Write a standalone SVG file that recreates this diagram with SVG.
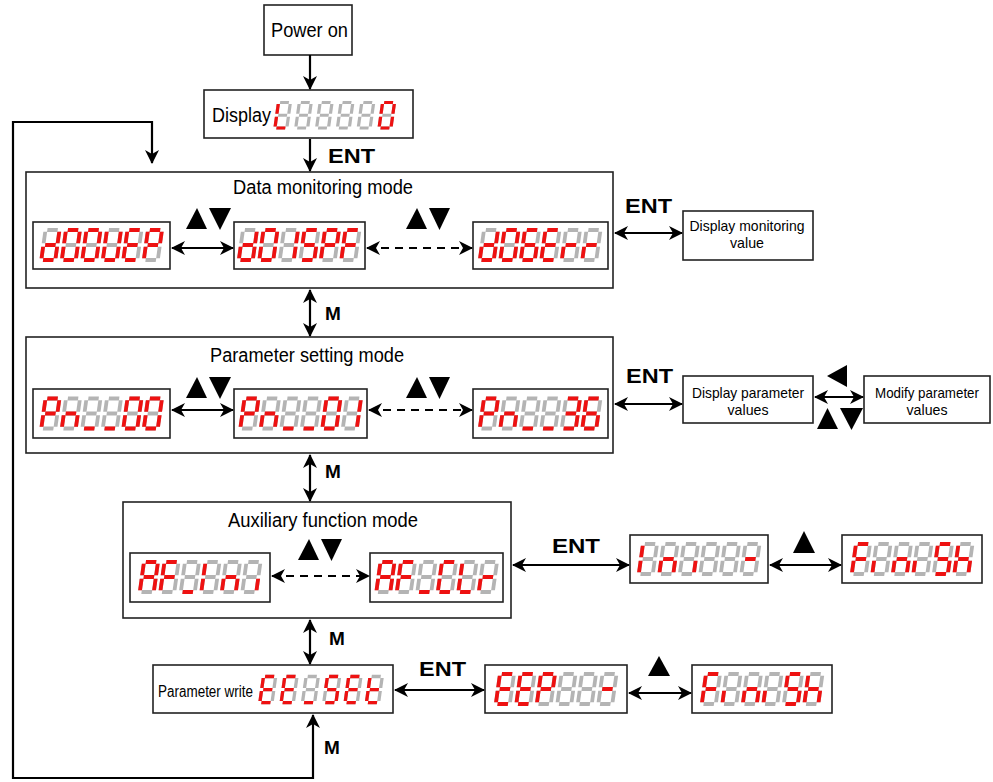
<svg xmlns="http://www.w3.org/2000/svg" xmlns:xlink="http://www.w3.org/1999/xlink" width="993" height="782" viewBox="0 0 993 782">
<style>
.bx{fill:#fff;stroke:#222;stroke-width:1.6}
.ln{stroke:#000;stroke-width:2.2;fill:none}
.da{stroke-dasharray:8 6}
.tri{fill:#000}
.t{font-family:"Liberation Sans",Arial,sans-serif;fill:#000}
.k{font-family:"Liberation Sans",Arial,sans-serif;font-weight:bold;fill:#000}
.off{stroke:#b4b4b4;stroke-width:3.8;fill:none}
.on{stroke:#ee1111;stroke-width:3.8;fill:none}
</style>
<defs>
<marker id="ah" viewBox="0 0 14 14" markerWidth="14" markerHeight="14" refX="13" refY="7" orient="auto-start-reverse" markerUnits="userSpaceOnUse">
<path d="M0,0 L14,7 L0,14 L4,7 z" fill="#000"/>
</marker>
<line id="sa" x1="1.8" y1="0" x2="12.2" y2="0"/>
<line id="sb" x1="14" y1="1.8" x2="14" y2="13.3"/>
<line id="sc" x1="14" y1="16.7" x2="14" y2="28.2"/>
<line id="sd" x1="1.8" y1="30" x2="12.2" y2="30"/>
<line id="se" x1="0" y1="16.7" x2="0" y2="28.2"/>
<line id="sf" x1="0" y1="1.8" x2="0" y2="13.3"/>
<line id="sg" x1="1.8" y1="15" x2="12.2" y2="15"/>
<g id="d8" class="off"><use href="#sa"/><use href="#sb"/><use href="#sc"/><use href="#sd"/><use href="#se"/><use href="#sf"/><use href="#sg"/></g>
<g id="gL" class="on"><use href="#sd"/><use href="#se"/><use href="#sf"/></g>
<g id="g0" class="on"><use href="#sa"/><use href="#sb"/><use href="#sc"/><use href="#sd"/><use href="#se"/><use href="#sf"/></g>
<g id="gd" class="on"><use href="#sb"/><use href="#sc"/><use href="#sd"/><use href="#se"/><use href="#sg"/></g>
<g id="gU" class="on"><use href="#sb"/><use href="#sc"/><use href="#sd"/><use href="#se"/><use href="#sf"/></g>
<g id="gE" class="on"><use href="#sa"/><use href="#sd"/><use href="#se"/><use href="#sf"/><use href="#sg"/></g>
<g id="gP" class="on"><use href="#sa"/><use href="#sb"/><use href="#se"/><use href="#sf"/><use href="#sg"/></g>
<g id="g1" class="on"><use href="#sb"/><use href="#sc"/></g>
<g id="gS" class="on"><use href="#sa"/><use href="#sc"/><use href="#sd"/><use href="#sf"/><use href="#sg"/></g>
<g id="gF" class="on"><use href="#sa"/><use href="#se"/><use href="#sf"/><use href="#sg"/></g>
<g id="g6" class="on"><use href="#sa"/><use href="#sc"/><use href="#sd"/><use href="#se"/><use href="#sf"/><use href="#sg"/></g>
<g id="gr" class="on"><use href="#se"/><use href="#sg"/></g>
<g id="gn" class="on"><use href="#sc"/><use href="#se"/><use href="#sg"/></g>
<g id="gu" class="on"><use href="#sd"/></g>
<g id="g3" class="on"><use href="#sa"/><use href="#sb"/><use href="#sc"/><use href="#sd"/><use href="#sg"/></g>
<g id="gA" class="on"><use href="#sa"/><use href="#sb"/><use href="#sc"/><use href="#se"/><use href="#sf"/><use href="#sg"/></g>
<g id="gI" class="on"><use href="#se"/><use href="#sf"/></g>
<g id="gic" class="on"><use href="#sc"/></g>
<g id="gie" class="on"><use href="#se"/></g>
<g id="gC" class="on"><use href="#sa"/><use href="#sd"/><use href="#se"/><use href="#sf"/></g>
<g id="gh" class="on"><use href="#sc"/><use href="#se"/><use href="#sf"/><use href="#sg"/></g>
<g id="gt" class="on"><use href="#sd"/><use href="#se"/><use href="#sf"/><use href="#sg"/></g>
<g id="gm" class="on"><use href="#sg"/></g>
</defs>

<rect width="993" height="782" fill="#fff"/>

<!-- nodes -->
<g id="power-on">
<rect class="bx" x="264" y="5" width="88" height="50"/>
<text class="t" x="271" y="37" font-size="21" textLength="77" lengthAdjust="spacingAndGlyphs">Power on</text>
</g>

<g id="display">
<rect class="bx" x="204" y="90" width="209" height="48"/>
<text class="t" x="212" y="122" font-size="20" textLength="59" lengthAdjust="spacingAndGlyphs">Display</text>
<g transform="translate(278.5,102.5) scale(0.85) skewX(-8)">
<use href="#d8" x="0"/><use href="#gL" x="0"/>
<use href="#d8" x="24.5"/>
<use href="#d8" x="49"/>
<use href="#d8" x="73.5"/>
<use href="#d8" x="98"/>
<use href="#d8" x="122.5"/><use href="#g0" x="122.5"/>
</g>
</g>

<g id="data-monitoring">
<rect class="bx" x="26" y="172" width="587" height="116"/>
<text class="t" x="233" y="194" font-size="20" textLength="180" lengthAdjust="spacingAndGlyphs">Data monitoring mode</text>
<g id="dm1">
<rect class="bx" x="33" y="222" width="137" height="47"/>
<g transform="translate(45.5,230) skewX(-8)">
<use href="#d8" x="0"/><use href="#gd" x="0"/>
<use href="#d8" x="20.5"/><use href="#g0" x="20.5"/>
<use href="#d8" x="41"/><use href="#g0" x="41"/>
<use href="#d8" x="61.5"/><use href="#gU" x="61.5"/>
<use href="#d8" x="82"/><use href="#gE" x="82"/>
<use href="#d8" x="102.5"/><use href="#gP" x="102.5"/>
</g>
</g>
<g id="dm2">
<rect class="bx" x="234" y="222" width="131" height="47"/>
<g transform="translate(243,230) skewX(-8)">
<use href="#d8" x="0"/><use href="#gd" x="0"/>
<use href="#d8" x="20.5"/><use href="#g0" x="20.5"/>
<use href="#d8" x="41"/><use href="#g1" x="41"/>
<use href="#d8" x="61.5"/><use href="#gS" x="61.5"/>
<use href="#d8" x="82"/><use href="#gP" x="82"/>
<use href="#d8" x="102.5"/><use href="#gF" x="102.5"/>
</g>
</g>
<g id="dm3">
<rect class="bx" x="473" y="222" width="135" height="47"/>
<g transform="translate(484,230) skewX(-8)">
<use href="#d8" x="0"/><use href="#gd" x="0"/>
<use href="#d8" x="20.5"/><use href="#g0" x="20.5"/>
<use href="#d8" x="41"/><use href="#g6" x="41"/>
<use href="#d8" x="61.5"/><use href="#gE" x="61.5"/>
<use href="#d8" x="82"/><use href="#gr" x="82"/>
<use href="#d8" x="102.5"/><use href="#gr" x="102.5"/>
</g>
</g>
</g>

<g id="display-monitoring-value">
<rect class="bx" x="683" y="211" width="130" height="49"/>
<text class="t" x="747" y="231" font-size="15" text-anchor="middle" textLength="115" lengthAdjust="spacingAndGlyphs">Display monitoring</text>
<text class="t" x="747" y="248" font-size="15" text-anchor="middle" textLength="34" lengthAdjust="spacingAndGlyphs">value</text>
</g>

<g id="parameter-setting">
<rect class="bx" x="26" y="337" width="587" height="116"/>
<text class="t" x="210" y="362" font-size="20" textLength="194" lengthAdjust="spacingAndGlyphs">Parameter setting mode</text>
<g id="ps1">
<rect class="bx" x="33" y="389" width="137" height="49"/>
<g transform="translate(45.5,398.5) skewX(-8)">
<use href="#d8" x="0"/><use href="#gP" x="0"/>
<use href="#d8" x="20.5"/><use href="#gn" x="20.5"/>
<use href="#d8" x="41"/><use href="#gu" x="41"/>
<use href="#d8" x="61.5"/><use href="#gu" x="61.5"/>
<use href="#d8" x="82"/><use href="#g0" x="82"/>
<use href="#d8" x="102.5"/><use href="#g0" x="102.5"/>
</g>
</g>
<g id="ps2">
<rect class="bx" x="234" y="389" width="133" height="49"/>
<g transform="translate(244.5,398.5) skewX(-8)">
<use href="#d8" x="0"/><use href="#gP" x="0"/>
<use href="#d8" x="20.5"/><use href="#gn" x="20.5"/>
<use href="#d8" x="41"/><use href="#gu" x="41"/>
<use href="#d8" x="61.5"/><use href="#gu" x="61.5"/>
<use href="#d8" x="82"/><use href="#g0" x="82"/>
<use href="#d8" x="102.5"/><use href="#g1" x="102.5"/>
</g>
</g>
<g id="ps3">
<rect class="bx" x="473" y="389" width="135" height="49"/>
<g transform="translate(484,398.5) skewX(-8)">
<use href="#d8" x="0"/><use href="#gP" x="0"/>
<use href="#d8" x="20.5"/><use href="#gn" x="20.5"/>
<use href="#d8" x="41"/><use href="#gu" x="41"/>
<use href="#d8" x="61.5"/><use href="#gu" x="61.5"/>
<use href="#d8" x="82"/><use href="#g3" x="82"/>
<use href="#d8" x="102.5"/><use href="#g6" x="102.5"/>
</g>
</g>
</g>

<g id="display-parameter-values">
<rect class="bx" x="683" y="376" width="130" height="47"/>
<text class="t" x="748" y="398" font-size="15" text-anchor="middle" textLength="112" lengthAdjust="spacingAndGlyphs">Display parameter</text>
<text class="t" x="748" y="415" font-size="15" text-anchor="middle" textLength="41" lengthAdjust="spacingAndGlyphs">values</text>
</g>

<g id="modify-parameter-values">
<rect class="bx" x="864" y="376" width="126" height="47"/>
<text class="t" x="927" y="398" font-size="15" text-anchor="middle" textLength="104" lengthAdjust="spacingAndGlyphs">Modify parameter</text>
<text class="t" x="927" y="415" font-size="15" text-anchor="middle" textLength="41" lengthAdjust="spacingAndGlyphs">values</text>
</g>

<g id="auxiliary-function">
<rect class="bx" x="123" y="502" width="388" height="116"/>
<text class="t" x="228" y="527" font-size="20" textLength="190" lengthAdjust="spacingAndGlyphs">Auxiliary function mode</text>
<g id="af1">
<rect class="bx" x="130" y="553" width="140" height="49"/>
<g transform="translate(144,562) skewX(-8)">
<use href="#d8" x="0"/><use href="#gA" x="0"/>
<use href="#d8" x="20.5"/><use href="#gF" x="20.5"/>
<use href="#d8" x="41"/><use href="#gu" x="41"/>
<use href="#d8" x="61.5"/><use href="#gI" x="61.5"/>
<use href="#d8" x="82"/><use href="#gn" x="82"/>
<use href="#d8" x="102.5"/><use href="#gic" x="102.5"/>
</g>
</g>
<g id="af2">
<rect class="bx" x="370" y="553" width="133" height="49"/>
<g transform="translate(380.5,562) skewX(-8)">
<use href="#d8" x="0"/><use href="#gA" x="0"/>
<use href="#d8" x="20.5"/><use href="#gF" x="20.5"/>
<use href="#d8" x="41"/><use href="#gu" x="41"/>
<use href="#d8" x="61.5"/><use href="#gC" x="61.5"/>
<use href="#d8" x="82"/><use href="#gL" x="82"/>
<use href="#d8" x="102.5"/><use href="#gr" x="102.5"/>
</g>
</g>
</g>

<g id="aux-run">
<rect class="bx" x="630" y="535" width="138" height="48"/>
<g transform="translate(643,544) skewX(-8)">
<use href="#d8" x="0"/><use href="#gI" x="0"/>
<use href="#d8" x="20.5"/><use href="#gn" x="20.5"/>
<use href="#d8" x="41"/><use href="#gic" x="41"/>
<use href="#d8" x="61.5"/>
<use href="#d8" x="82"/>
<use href="#d8" x="102.5"/><use href="#gm" x="102.5"/>
</g>
</g>

<g id="aux-finish">
<rect class="bx" x="842" y="535" width="140" height="48"/>
<g transform="translate(856,544) skewX(-8)">
<use href="#d8" x="0"/><use href="#gF" x="0"/>
<use href="#d8" x="20.5"/><use href="#gie" x="20.5"/>
<use href="#d8" x="41"/><use href="#gn" x="41"/>
<use href="#d8" x="61.5"/><use href="#gie" x="61.5"/>
<use href="#d8" x="82"/><use href="#gS" x="82"/>
<use href="#d8" x="102.5"/><use href="#gh" x="102.5"/>
</g>
</g>

<g id="parameter-write">
<rect class="bx" x="153" y="665" width="240" height="48"/>
<text class="t" x="158" y="697" font-size="16" textLength="95" lengthAdjust="spacingAndGlyphs">Parameter write</text>
<g transform="translate(263.5,676.5) scale(0.87) skewX(-8)">
<use href="#d8" x="0"/><use href="#gE" x="0"/>
<use href="#d8" x="24.5"/><use href="#gE" x="24.5"/>
<use href="#d8" x="49"/><use href="#gu" x="49"/>
<use href="#d8" x="73.5"/><use href="#gS" x="73.5"/>
<use href="#d8" x="98"/><use href="#gE" x="98"/>
<use href="#d8" x="122.5"/><use href="#gt" x="122.5"/>
</g>
</g>

<g id="write-run">
<rect class="bx" x="485" y="665" width="142" height="48"/>
<g transform="translate(500,674) skewX(-8)">
<use href="#d8" x="0"/><use href="#gE" x="0"/>
<use href="#d8" x="20.5"/><use href="#gE" x="20.5"/>
<use href="#d8" x="41"/><use href="#gP" x="41"/>
<use href="#d8" x="61.5"/>
<use href="#d8" x="82"/>
<use href="#d8" x="102.5"/><use href="#gm" x="102.5"/>
</g>
</g>

<g id="write-finish">
<rect class="bx" x="692" y="665" width="140" height="48"/>
<g transform="translate(706,674) skewX(-8)">
<use href="#d8" x="0"/><use href="#gF" x="0"/>
<use href="#d8" x="20.5"/><use href="#gie" x="20.5"/>
<use href="#d8" x="41"/><use href="#gn" x="41"/>
<use href="#d8" x="61.5"/><use href="#gie" x="61.5"/>
<use href="#d8" x="82"/><use href="#gS" x="82"/>
<use href="#d8" x="102.5"/><use href="#gh" x="102.5"/>
</g>
</g>

<!-- connectors -->
<g id="connectors">
<line class="ln" x1="310" y1="55" x2="310" y2="89" marker-end="url(#ah)"/>
<line class="ln" x1="310" y1="139" x2="310" y2="171" marker-end="url(#ah)"/>
<polyline class="ln" points="313,715 313,778 13,778 13,122 152,122 152,163" marker-start="url(#ah)" marker-end="url(#ah)"/>
<line class="ln" x1="172" y1="248" x2="233" y2="248" marker-start="url(#ah)" marker-end="url(#ah)"/>
<line class="ln da" x1="367" y1="248" x2="472" y2="248" marker-start="url(#ah)" marker-end="url(#ah)"/>
<line class="ln" x1="615" y1="233" x2="682" y2="233" marker-start="url(#ah)" marker-end="url(#ah)"/>
<line class="ln" x1="310" y1="290" x2="310" y2="336" marker-start="url(#ah)" marker-end="url(#ah)"/>
<line class="ln" x1="172" y1="410" x2="233" y2="410" marker-start="url(#ah)" marker-end="url(#ah)"/>
<line class="ln da" x1="369" y1="410" x2="472" y2="410" marker-start="url(#ah)" marker-end="url(#ah)"/>
<line class="ln" x1="615" y1="404" x2="682" y2="404" marker-start="url(#ah)" marker-end="url(#ah)"/>
<line class="ln" x1="815" y1="397" x2="863" y2="397" marker-start="url(#ah)" marker-end="url(#ah)"/>
<line class="ln" x1="310" y1="455" x2="310" y2="501" marker-start="url(#ah)" marker-end="url(#ah)"/>
<line class="ln da" x1="272" y1="576" x2="369" y2="576" marker-start="url(#ah)" marker-end="url(#ah)"/>
<line class="ln" x1="513" y1="565" x2="629" y2="565" marker-start="url(#ah)" marker-end="url(#ah)"/>
<line class="ln" x1="770" y1="565" x2="841" y2="565" marker-start="url(#ah)" marker-end="url(#ah)"/>
<line class="ln" x1="310" y1="620" x2="310" y2="664" marker-start="url(#ah)" marker-end="url(#ah)"/>
<line class="ln" x1="395" y1="690" x2="484" y2="690" marker-start="url(#ah)" marker-end="url(#ah)"/>
<line class="ln" x1="629" y1="693" x2="691" y2="693" marker-start="url(#ah)" marker-end="url(#ah)"/>
</g>

<!-- key labels and triangles -->
<g id="labels">
<text class="k" x="328" y="163" font-size="20" textLength="47" lengthAdjust="spacingAndGlyphs">ENT</text>
<text class="k" x="625" y="213" font-size="20" textLength="47" lengthAdjust="spacingAndGlyphs">ENT</text>
<text class="k" x="626" y="383" font-size="20" textLength="47" lengthAdjust="spacingAndGlyphs">ENT</text>
<text class="k" x="552" y="553" font-size="20" textLength="48" lengthAdjust="spacingAndGlyphs">ENT</text>
<text class="k" x="419" y="676" font-size="20" textLength="47" lengthAdjust="spacingAndGlyphs">ENT</text>
<text class="k" x="325" y="320" font-size="19">M</text>
<text class="k" x="325" y="478" font-size="19">M</text>
<text class="k" x="329" y="645" font-size="19">M</text>
<text class="k" x="324" y="754" font-size="19">M</text>
<polygon class="tri" points="197,208 186,229 207,229"/>
<polygon class="tri" points="209,208 231,208 220,230"/>
<polygon class="tri" points="417,208 406,229 427,229"/>
<polygon class="tri" points="429,208 450,208 439.5,230"/>
<polygon class="tri" points="197,377 186,398 207,398"/>
<polygon class="tri" points="209,377 231,377 220,399"/>
<polygon class="tri" points="417,377 406,398 427,398"/>
<polygon class="tri" points="429,377 450,377 439.5,399"/>
<polygon class="tri" points="309,539 298,560 319,560"/>
<polygon class="tri" points="321,539 342,539 331.5,561"/>
<polygon class="tri" points="804,531 793,553 815,553"/>
<polygon class="tri" points="659,656 648,676 670,676"/>
<polygon class="tri" points="827,376 847,365 847,387"/>
<polygon class="tri" points="827.5,408 817,429 838,429"/>
<polygon class="tri" points="840,408 863,408 851.5,430"/>
</g>
</svg>
